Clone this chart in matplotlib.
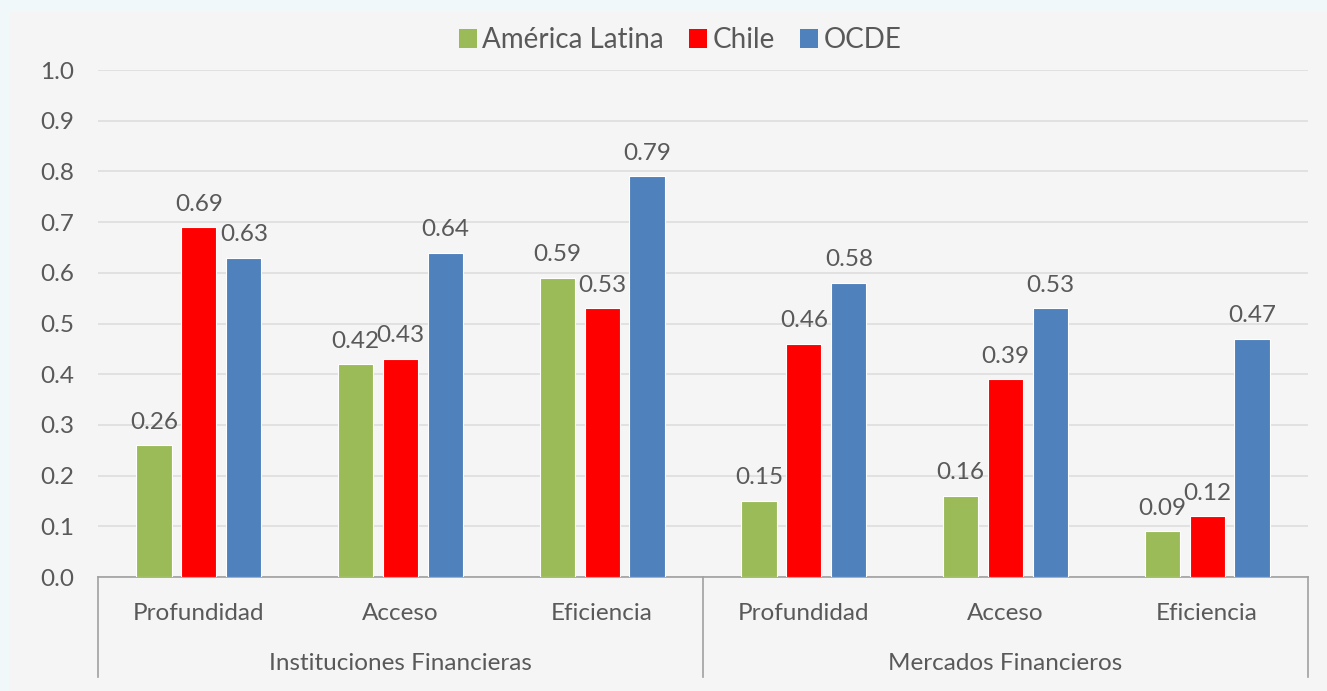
import matplotlib
matplotlib.use("Agg")
import matplotlib.pyplot as plt
import numpy as np
from matplotlib.patches import Rectangle, Patch
from matplotlib.lines import Line2D

categories = ["Profundidad", "Acceso", "Eficiencia", "Profundidad", "Acceso", "Eficiencia"]
groups = ["Instituciones Financieras", "Mercados Financieros"]
series_names = ["América Latina", "Chile", "OCDE"]
america_latina = [0.26, 0.42, 0.59, 0.15, 0.16, 0.09]
chile = [0.69, 0.43, 0.53, 0.46, 0.39, 0.12]
ocde = [0.63, 0.64, 0.79, 0.58, 0.53, 0.47]
y_ticks = [0.0, 0.1, 0.2, 0.3, 0.4, 0.5, 0.6, 0.7, 0.8, 0.9, 1.0]

colors = ["#9BBB59", "#FF0000", "#4F81BD"]
txt = "#595959"
plt.rcParams['font.family'] = ['Lato', 'DejaVu Sans']

W, H = 1327, 691
fig = plt.figure(figsize=(W / 100, H / 100), dpi=100)
fig.patch.set_facecolor("#F1F8F9")
bg = fig.add_axes([0, 0, 1, 1], zorder=-10)
bg.axis("off")
bg.set_xlim(0, 1); bg.set_ylim(0, 1)
bg.add_patch(Rectangle((9 / W, 0), 1, 1 - 12 / H, facecolor="#F5F5F5", edgecolor="none"))

ax = fig.add_axes([98 / W, 1 - 577 / H, (1308 - 98) / W, (577 - 70) / H])
ax.set_facecolor("none")

n = len(categories)
x = np.arange(n)
bw = 0.175
step = 0.223
fs = 17.5
for i, (vals, c) in enumerate(zip([america_latina, chile, ocde], colors)):
    pos = x + (i - 1) * step
    ax.bar(pos, vals, width=bw, color=c, edgecolor="white", linewidth=0.8, zorder=3)
    for p, v in zip(pos, vals):
        ax.annotate(f"{v:.2f}", (p, v), xytext=(0, 9), textcoords="offset points",
                    ha="center", va="bottom", fontsize=fs, color=txt, zorder=4)

ax.set_xlim(-0.5, n - 0.5)
ax.set_ylim(0, 1.0)
ax.set_yticks(y_ticks)
ax.set_yticklabels([f"{t:.1f}" for t in y_ticks])
ax.tick_params(axis="y", length=0, pad=17, labelsize=fs, labelcolor=txt)
ax.set_xticks([])
ax.yaxis.grid(True, color="#DDDDDD", linewidth=1.2, zorder=0)
ax.set_axisbelow(True)
for s in ["top", "right", "left"]:
    ax.spines[s].set_visible(False)
ax.spines["bottom"].set_color("#A0A0A0")
ax.spines["bottom"].set_linewidth(1.2)

trans = ax.get_xaxis_transform()
cat_y = -(613 - 577) / (577 - 70)
grp_y = -(663 - 577) / (577 - 70)
line_bot = -(677 - 577) / (577 - 70)
for xi, c in zip(x, categories):
    ax.text(xi, cat_y, c, transform=trans, ha="center", va="center", fontsize=fs, color=txt)
for gi, g in enumerate(groups):
    ax.text(gi * 3 + 1, grp_y, g, transform=trans, ha="center", va="center", fontsize=fs, color=txt)
for xb in [-0.5, 2.5, 5.5]:
    ax.add_line(Line2D([xb, xb], [0, line_bot], transform=trans, color="#A0A0A0",
                       linewidth=1.2, clip_on=False))

handles = [Patch(facecolor=c, edgecolor="none") for c in colors]
fig.legend(handles, series_names, loc="center", bbox_to_anchor=(680 / W, 1 - 40 / H),
           ncol=3, frameon=False, fontsize=20, handlelength=0.65, handleheight=0.65,
           handletextpad=0.2, columnspacing=0.9, labelcolor=txt)

fig.savefig("out.png", dpi=100, facecolor=fig.get_facecolor())
